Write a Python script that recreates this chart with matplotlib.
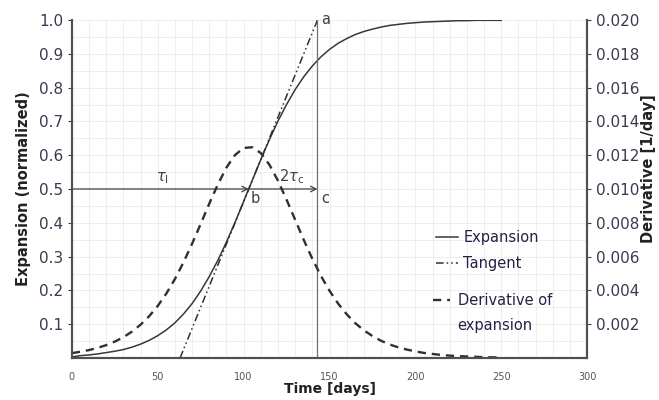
import numpy as np
import matplotlib.pyplot as plt
from matplotlib.lines import Line2D

plt.rcParams['font.family'] = ['DejaVu Sans']

# time axis (days), read every 5 days
days = list(range(0, 255, 5))

# normalized expansion
expansion = [0.003, 0.007, 0.009, 0.012, 0.016, 0.020, 0.025, 0.032, 0.041, 0.052,
             0.066, 0.083, 0.104, 0.130, 0.161, 0.198, 0.241, 0.289, 0.343, 0.401,
             0.463, 0.525, 0.587, 0.646, 0.701, 0.750, 0.794, 0.832, 0.864, 0.891,
             0.913, 0.931, 0.945, 0.957, 0.966, 0.973, 0.979, 0.984, 0.987, 0.990,
             0.992, 0.994, 0.995, 0.996, 0.997, 0.998, 0.998, 0.999, 0.999, 0.999,
             0.999]

# derivative of expansion [1/day]
derivative = [0.00029, 0.00037, 0.00047, 0.00060, 0.00076, 0.00097, 0.00123, 0.00156,
              0.00197, 0.00247, 0.00308, 0.00381, 0.00467, 0.00566, 0.00676, 0.00793,
              0.00913, 0.01027, 0.01127, 0.01201, 0.01243, 0.01247, 0.01213, 0.01144,
              0.01049, 0.00937, 0.00818, 0.00699, 0.00587, 0.00486, 0.00398, 0.00322,
              0.00259, 0.00206, 0.00164, 0.00130, 0.00102, 0.00080, 0.00063, 0.00050,
              0.00039, 0.00030, 0.00024, 0.00018, 0.00014, 0.00011, 0.00009, 0.00007,
              0.00005, 0.00004, 0.00003]

# tangent at inflection point, from (tau_l - 2 tau_c, 0) to (tau_l + 2 tau_c, 1)
tangent_t = [63, 143]
tangent_y = [0.0, 1.0]

tau_l = 103   # point b
t_c = 143     # point c / a

dark = '#404040'
tick_col = '#3a3a50'

fig = plt.figure(figsize=(6.59, 4.0), dpi=100)
ax = fig.add_axes([0.109, 0.105, 0.782, 0.845])
ax2 = ax.twinx()

# grid
ax.set_xticks(range(0, 301, 10), minor=True)
ax.set_yticks(np.arange(0, 1.001, 0.05), minor=True)
ax.grid(which='both', color='#ebebeb', linewidth=0.6)
ax.set_axisbelow(True)

l1, = ax.plot(days, expansion, color='#383838', lw=1.1, label='Expansion')
l2, = ax.plot(tangent_t, tangent_y, color='#303030', lw=1.1,
              dashes=(5, 2, 1, 2, 1, 2), label='Tangent')
l3, = ax2.plot(days, derivative, color='#303030', lw=1.7, dashes=(3.5, 2.5),
               label='Derivative of')

# construction lines
ax.plot([t_c, t_c], [0, 1.0], color='#707070', lw=0.9)
ax.annotate('', xy=(tau_l, 0.5), xytext=(0, 0.5),
            arrowprops=dict(arrowstyle='->', color=dark, lw=0.9, shrinkA=0, shrinkB=0))
ax.annotate('', xy=(t_c, 0.5), xytext=(tau_l, 0.5),
            arrowprops=dict(arrowstyle='->', color=dark, lw=0.9, shrinkA=0, shrinkB=0))
ax.text(53, 0.51, r'$\tau_\mathregular{l}$', fontsize=10.5, color=dark, ha='center', va='bottom')
ax.text(128, 0.51, r'2$\tau_\mathregular{c}$', fontsize=10.5, color=dark, ha='center', va='bottom')
ax.text(t_c + 2, 1.0, 'a', fontsize=10.5, color=dark, ha='left', va='center')
ax.text(tau_l + 1, 0.495, 'b', fontsize=10.5, color=dark, ha='left', va='top')
ax.text(t_c + 2, 0.495, 'c', fontsize=10.5, color=dark, ha='left', va='top')

ax.set_xlim(0, 300)
ax.set_ylim(0, 1.0)
ax2.set_ylim(0, 0.02)

ax.set_xticks(range(0, 301, 50))
ax.set_yticks(np.arange(0.1, 1.001, 0.1))
ax.set_yticklabels(['%.1f' % v for v in np.arange(0.1, 1.001, 0.1)])
ax2.set_yticks(np.arange(0.002, 0.0201, 0.002))
ax2.set_yticklabels(['%.3f' % v for v in np.arange(0.002, 0.0201, 0.002)])

ax.tick_params(axis='x', labelsize=7, colors='#555555', length=0, pad=10)
ax.tick_params(axis='y', labelsize=11, labelcolor=tick_col, color=dark, length=3, pad=3)
ax.tick_params(which='minor', length=0)
ax2.tick_params(axis='y', labelsize=11, labelcolor=tick_col, color=dark, length=3, pad=3)

for a in (ax, ax2):
    a.spines['top'].set_visible(False)
    for s in ('left', 'bottom', 'right'):
        a.spines[s].set_color('#505050')
        a.spines[s].set_linewidth(1.5)

ax.set_xlabel('Time [days]', fontsize=10, fontweight='bold', color='#222222')
ax.set_ylabel('Expansion (normalized)', fontsize=10.5, fontweight='bold', color='#222222')
ax2.set_ylabel('Derivative [1/day]', fontsize=10.5, fontweight='bold', color='#222222')
ax.xaxis.set_label_coords(0.5, -0.072)
ax.yaxis.set_label_coords(-0.08, 0.5)
ax2.yaxis.set_label_coords(1.105, 0.56)

# legend: two blocks, derivative entry set lower as in the original
ax.legend(handles=[l1, l2], loc='center left', bbox_to_anchor=(0.682, 0.318),
          frameon=False, fontsize=10.5, handlelength=1.5, handletextpad=0.35,
          labelspacing=0.8, labelcolor='#222244')
blank = Line2D([], [], linestyle='none', label='expansion')
ax2.legend(handles=[l3, blank], loc='center left', bbox_to_anchor=(0.675, 0.133),
           frameon=False, fontsize=10.5, handlelength=1.2, handletextpad=0.5,
           labelspacing=0.65, labelcolor='#222244')

fig.savefig('out.png', dpi=100)
